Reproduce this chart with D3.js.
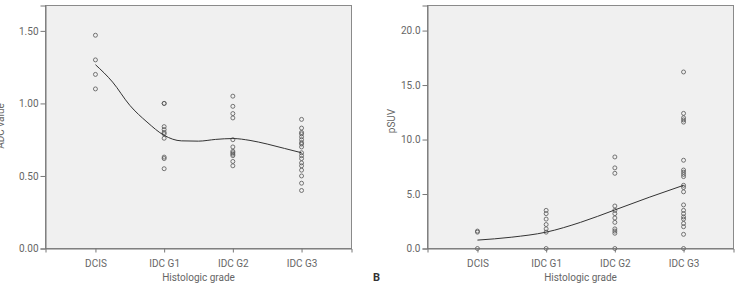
<!DOCTYPE html>
<html>
<head>
<meta charset="utf-8">
<script src="https://cdn.jsdelivr.net/npm/d3@7"></script>
<style>
  body { margin: 0; background: #ffffff; }
  svg text { font-family: Roboto, "Noto Sans", sans-serif; fill: #666666; }
</style>
</head>
<body>
<div id="figuur"></div>
<script>

// categorieen op de x-as
var categories = ["DCIS", "IDC G1", "IDC G2", "IDC G3"];

var adcDCIS = [1.47, 1.30, 1.20, 1.10];
var adcG1 = [1.00, 1.00, 0.84, 0.82, 0.80, 0.79, 0.76, 0.63, 0.62, 0.55];
var adcG2 = [1.05, 0.98, 0.93, 0.90, 0.75, 0.70, 0.67, 0.66, 0.65, 0.64, 0.60, 0.57];
var adcG3 = [0.89, 0.83, 0.80, 0.79, 0.77, 0.75, 0.73, 0.72, 0.70, 0.66, 0.64, 0.62,
             0.59, 0.57, 0.54, 0.50, 0.45, 0.40];

// pSUV waarden per groep
var suvDCIS = [1.6, 1.5, 0.0];
var suvG1 = [3.5, 3.2, 2.7, 2.2, 1.8, 1.5, 0.0];
var suvG2 = [8.4, 7.4, 6.9, 3.9, 3.5, 3.2, 2.8, 2.4, 1.8, 1.6, 1.4, 0.0];
var suvG3 = [16.2, 12.4, 12.0, 11.8, 11.6, 8.1, 7.2, 7.0, 6.8, 6.6, 5.8, 5.6, 5.2,
             4.0, 3.5, 3.2, 2.9, 2.7, 2.3, 2.0, 1.3, 0.0];

// fit lijnen (positie in categorie-index, waarde)
var adcFitPos = [0, 0.25, 0.5, 0.75, 1, 1.25, 1.5, 1.75, 2, 2.25, 2.5, 2.75, 3];
var adcFit = [1.267, 1.147, 0.987, 0.872, 0.78, 0.742, 0.740, 0.752, 0.758, 0.745, 0.72, 0.69, 0.66];
var suvFitPos = [0, 0.5, 1, 1.5, 2, 2.5, 3];
var suvFit = [0.77, 1.04, 1.5, 2.4, 3.54, 4.7, 5.8];

// tick labels
var adcTicks = [0, 0.5, 1.0, 1.5];
var suvTicks = [0, 5, 10, 15, 20];

var breedte = 738;
var hoogte = 289;

var svg = d3.select("#figuur")
            .append("svg")
            .attr("width", breedte)
            .attr("height", hoogte);

function paneel(opties) {
  var x = d3.scalePoint()
            .domain(categories)
            .range([opties.links, opties.rechts])
            .padding(0.727);

  var xIndex = d3.scaleLinear()
                 .domain([0, categories.length - 1])
                 .range([x(categories[0]), x(categories[categories.length - 1])]);

  var y = d3.scaleLinear()
            .domain([0, opties.max])
            .range([opties.beneden, opties.boven]);

  var g = svg.append("g");

  // achtergrond met rand
  g.append("rect")
   .attr("x", opties.links)
   .attr("y", opties.boven)
   .attr("width", opties.rechts - opties.links)
   .attr("height", opties.beneden - opties.boven)
   .attr("fill", "#f0f0f0")
   .attr("stroke", "#8a8a8a")
   .attr("stroke-width", 1);

  // punten
  var punten = [];
  opties.groepen.forEach(function(groep, i) {
    groep.forEach(function(v) { punten.push({cat: categories[i], waarde: v}); });
  });

  g.selectAll("circle")
   .data(punten)
   .enter()
   .append("circle")
   .attr("cx", function(d) { return x(d.cat); })
   .attr("cy", function(d) { return y(d.waarde); })
   .attr("r", 2)
   .attr("fill", "none")
   .attr("stroke", "#555555")
   .attr("stroke-width", 0.8);

  // fit lijn
  var lijn = d3.line()
               .x(function(d) { return xIndex(d[0]); })
               .y(function(d) { return y(d[1]); })
               .curve(d3.curveMonotoneX);

  g.append("path")
   .datum(d3.zip(opties.fitPos, opties.fit))
   .attr("d", lijn)
   .attr("fill", "none")
   .attr("stroke", "#333333")
   .attr("stroke-width", 1);

  // assen
  var yAs = g.append("g")
             .attr("transform", "translate(" + opties.links + ",0)")
             .call(d3.axisLeft(y).tickValues(opties.ticks).tickFormat(d3.format(opties.formaat))
                     .tickSize(5).tickPadding(2));

  var xAs = g.append("g")
             .attr("transform", "translate(0," + opties.beneden + ")")
             .call(d3.axisBottom(x).tickSize(4).tickPadding(7));

  [yAs, xAs].forEach(function(as) {
    as.select(".domain").attr("stroke", "#777777");
    as.selectAll(".tick line").attr("stroke", "#777777");
    as.selectAll(".tick text").attr("font-size", "10px").attr("fill", "#666666");
  });

  // as titels
  g.append("text")
   .attr("x", (opties.links + opties.rechts) / 2)
   .attr("y", 281)
   .attr("text-anchor", "middle")
   .attr("font-size", "10px")
   .text("Histologic grade");

  g.append("text")
   .attr("transform", "translate(" + opties.titelX + "," + opties.titelY + ") rotate(-90)")
   .attr("text-anchor", "middle")
   .attr("font-size", "10px")
   .text(opties.titel);
}

paneel({links: 45.5, rechts: 351.5, boven: 5.5, beneden: 248.5, max: 1.675,
        groepen: [adcDCIS, adcG1, adcG2, adcG3], fitPos: adcFitPos, fit: adcFit,
        ticks: adcTicks, formaat: ".2f", titel: "ADC value", titelX: 4, titelY: 126});

paneel({links: 427.5, rechts: 733.5, boven: 5.5, beneden: 248.5, max: 22.3,
        groepen: [suvDCIS, suvG1, suvG2, suvG3], fitPos: suvFitPos, fit: suvFit,
        ticks: suvTicks, formaat: ".1f", titel: "pSUV", titelX: 395, titelY: 121});

// paneel letter
svg.append("text")
   .attr("x", 373)
   .attr("y", 281)
   .attr("font-size", "11px")
   .attr("font-weight", "bold")
   .style("fill", "#333333")
   .text("B");

</script>
</body>
</html>
